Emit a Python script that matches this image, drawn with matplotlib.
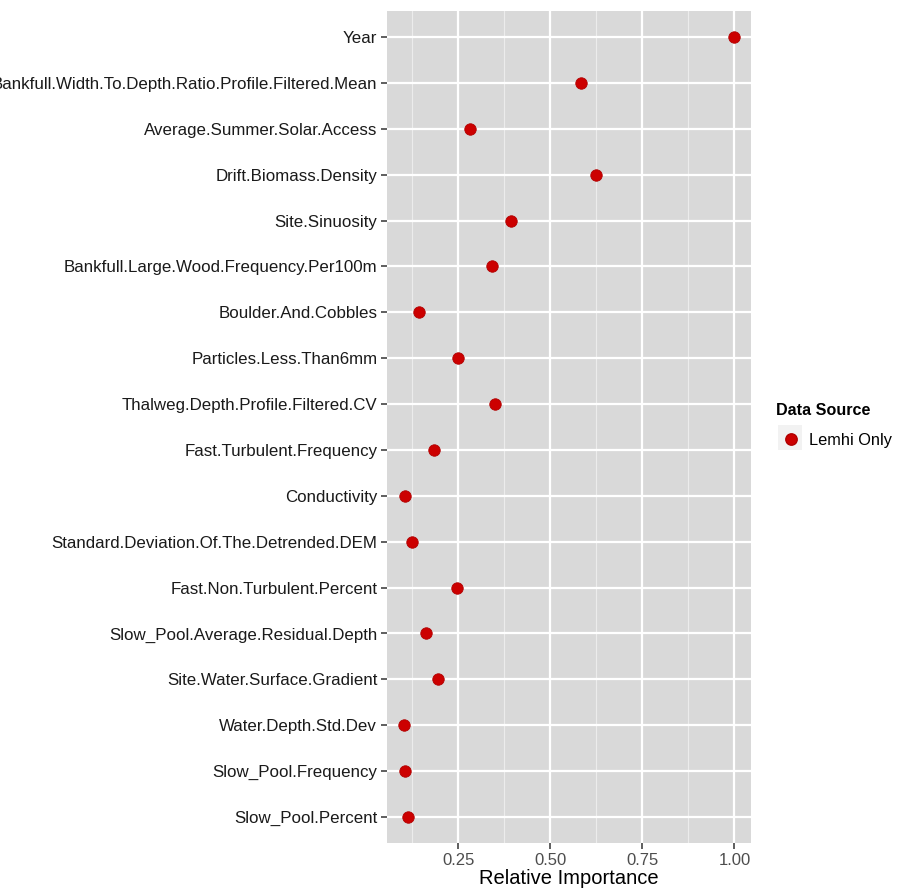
import matplotlib.pyplot as plt
from matplotlib.lines import Line2D
from matplotlib.patches import Rectangle
import numpy as np

plt.rcParams['font.family'] = ['Liberation Sans', 'DejaVu Sans']

# variables, top to bottom as they appear on the axis
variables = [
    'Year',
    'Bankfull.Width.To.Depth.Ratio.Profile.Filtered.Mean',
    'Average.Summer.Solar.Access',
    'Drift.Biomass.Density',
    'Site.Sinuosity',
    'Bankfull.Large.Wood.Frequency.Per100m',
    'Boulder.And.Cobbles',
    'Particles.Less.Than6mm',
    'Thalweg.Depth.Profile.Filtered.CV',
    'Fast.Turbulent.Frequency',
    'Conductivity',
    'Standard.Deviation.Of.The.Detrended.DEM',
    'Fast.Non.Turbulent.Percent',
    'Slow_Pool.Average.Residual.Depth',
    'Site.Water.Surface.Gradient',
    'Water.Depth.Std.Dev',
    'Slow_Pool.Frequency',
    'Slow_Pool.Percent',
]
importance = [1.000, 0.583, 0.282, 0.624, 0.393, 0.342, 0.143, 0.249, 0.350,
              0.184, 0.105, 0.124, 0.246, 0.162, 0.195, 0.103, 0.105, 0.113]
x_ticks = [0.25, 0.50, 0.75, 1.00]
x_minor = [0.125, 0.375, 0.625, 0.875]

fig = plt.figure(figsize=(9.07, 8.94), dpi=100)
ax = fig.add_axes([0.4267, 0.057, 0.4013, 0.9307])

n = len(variables)
ypos = np.arange(n)[::-1]

ax.set_facecolor('#d9d9d9')
for s in ax.spines.values():
    s.set_visible(False)

ax.set_xlim(0.056, 1.045)
ax.set_ylim(-0.57, n - 1 + 0.57)

for v in x_minor:
    ax.axvline(v, color='#ececec', lw=0.8, zorder=1)
for v in x_ticks:
    ax.axvline(v, color='white', lw=1.6, zorder=1)
for y in ypos:
    ax.axhline(y, color='white', lw=1.6, zorder=1)

ax.scatter(importance, ypos, s=68, color='#cc0000', edgecolor='#b00000',
           linewidth=0.6, zorder=3)

ax.set_yticks(ypos)
ax.set_yticklabels(variables, fontsize=12.2, color='#1a1a1a')
ax.set_xticks(x_ticks)
ax.set_xticklabels(['%.2f' % v for v in x_ticks], fontsize=12, color='#4d4d4d')
ax.tick_params(axis='both', length=4, width=1.1, color='#333333', pad=3)
ax.set_xlabel('Relative Importance', fontsize=14.5, color='black', labelpad=1)

# grey box behind the legend key
fig.patches.append(Rectangle((778 / 907, 1 - 450 / 894), 24 / 907, 25 / 894,
                             transform=fig.transFigure, facecolor='#f2f2f2',
                             edgecolor='none', zorder=0))

handle = Line2D([], [], marker='o', ls='', markersize=8.2,
                markerfacecolor='#cc0000', markeredgecolor='#b00000')
leg = fig.legend([handle], ['Lemhi Only'], title='Data Source',
                 loc='upper left', bbox_to_anchor=(0.849, 0.5625),
                 frameon=False, fontsize=11.8, title_fontsize=11.6,
                 handlelength=1.2, handletextpad=0.45, borderpad=0.2,
                 labelspacing=0.3)
leg.get_title().set_fontweight('bold')
leg.get_title().set_position((-6, 0))
leg._legend_box.align = 'left'
leg._legend_box.sep = 11

fig.savefig('out.png', dpi=100)
